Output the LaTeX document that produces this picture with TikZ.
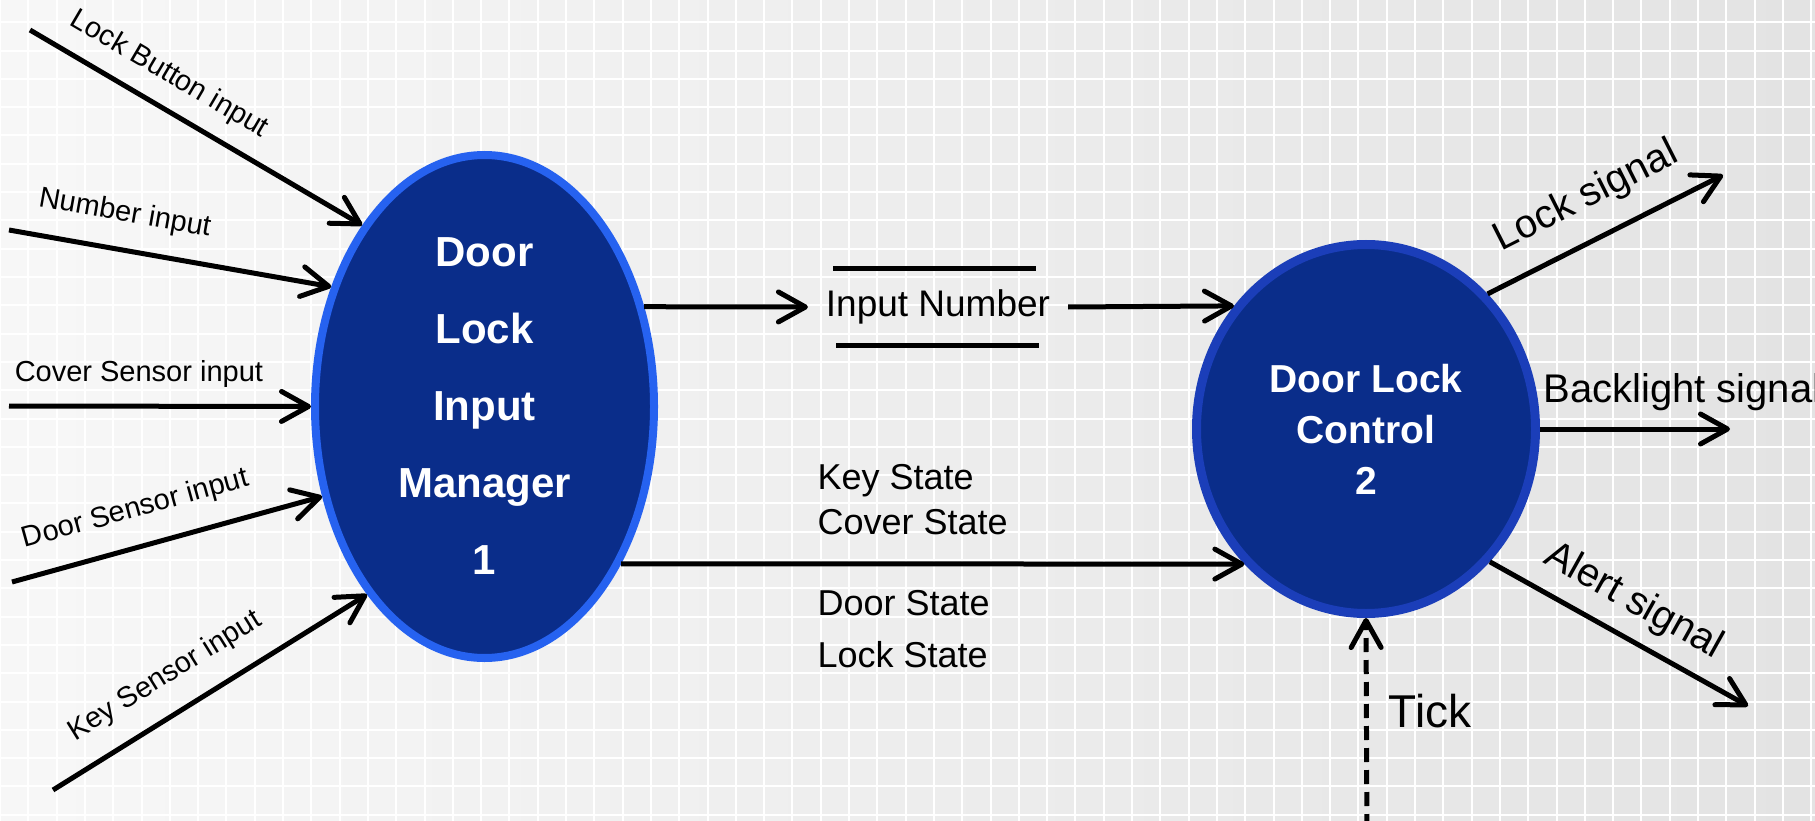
\documentclass[tikz,border=0pt]{standalone}
\usepackage{fontspec}
\setmainfont{Liberation Sans}
\usetikzlibrary{shapes.geometric, arrows.meta}
\definecolor{prosesbiru}{RGB}{10,45,138}
\definecolor{tepiterang}{RGB}{38,98,240}
\definecolor{tepigelap}{RGB}{27,62,185}
\tikzstyle{flow} = [line width=5pt, -{Straight Barb[length=27pt,width=30pt,round]}]
\tikzstyle{bubble} = [ellipse, fill=prosesbiru, text=white, align=center]
\tikzstyle{inlbl} = [font=\fontsize{29}{35}\selectfont, inner sep=0pt]
\tikzstyle{outlbl} = [font=\fontsize{40}{48}\selectfont, inner sep=0pt]
\tikzstyle{gridline} = [white, line width=2pt]

\begin{document}
\begin{tikzpicture}[x=1pt,y=-1pt]
  \useasboundingbox (0,0) rectangle (1815,821);

  % Latar belakang kertas grafik
  \shade[left color=white!97!black, right color=white!89!black] (0,0) rectangle (1815,821);
  \foreach \i in {0,...,64}
    \draw[gridline] ({28.3*\i},0) -- ({28.3*\i},821);
  \foreach \j in {0,...,28}
    \draw[gridline] (0,{22.3+28.3*\j}) -- (1815,{22.3+28.3*\j});

  % Proses 1 dan 2
  \node[bubble, draw=tepiterang, line width=8pt, minimum width=339pt, minimum height=503pt,
        font=\fontsize{42}{77}\selectfont\bfseries] (mgr) at (484.5,406.5)
        {Door\\Lock\\Input\\Manager\\1};
  \node[bubble, draw=tepigelap, line width=9pt, minimum width=339pt, minimum height=369pt,
        font=\fontsize{39}{51}\selectfont\bfseries] (ctl) at (1366,429)
        {Door Lock\\Control\\2};

  % Penyimpanan data
  \node[font=\fontsize{37}{44}\selectfont, inner sep=0pt, outer xsep=18pt, outer ysep=0pt,
        minimum height=77pt] (store) at (938,307) {Input Number};
  \draw[line width=5pt] ([xshift=-105pt]store.north) -- ([xshift=98pt]store.north);
  \draw[line width=5pt] ([xshift=-102pt]store.south) -- ([xshift=101pt]store.south);

  % Masukan ke proses 1
  \foreach \n/\x/\y/\a/\t/\s/\d in {
      lb/30/30/124/Lock Button input/0.37/16pt,
      num/9/230/142/Number input/0.34/20pt,
      cov/9/406/180/Cover Sensor input/0.43/16pt,
      door/12/582/209/Door Sensor input/0.43/21pt,
      key/53/790/238/Key Sensor input/0.42/21pt} {
    \coordinate (\n) at (\x,\y);
    \draw[flow] (\n) -- (mgr.\a) node[pos=\s, sloped, above=\d, inlbl] {\t};
  }

  % Aliran antar proses
  \draw[flow] (mgr.32) -- (store.west);
  \draw[flow] (store.east) -- (ctl.137);
  \draw[flow] (mgr.311) -- (ctl.228)
    node[pos=0.311, anchor=south west, yshift=27pt, inner sep=0pt, align=left,
         font=\fontsize{36}{45}\selectfont] {Key State\\Cover State}
    node[pos=0.311, anchor=north west, yshift=-24pt, inner sep=0pt, align=left,
         font=\fontsize{36}{52}\selectfont] {Door State\\Lock State};

  % Keluaran proses 2
  \coordinate (lsig) at (1723,175);
  \coordinate (bsig) at (1730,429);
  \coordinate (asig) at (1748,706);
  \coordinate (tk) at (1367,850);
  \draw[flow] (ctl.48) -- (lsig) node[midway, sloped, above=21pt, outlbl] {Lock signal};
  \draw[flow] (ctl.east) -- (bsig)
    node[pos=0, anchor=base west, xshift=1pt, yshift=27pt, outlbl] {Backlight signal};
  \draw[flow] (ctl.-47) -- (asig) node[pos=0.49, sloped, above=14pt, outlbl] {Alert signal};
  \draw[flow, dash pattern=on 14pt off 8pt] (tk) -- (ctl.south)
    node[pos=0.6, right=20pt, inner sep=0pt, font=\fontsize{46}{55}\selectfont] {Tick};
\end{tikzpicture}
\end{document}
